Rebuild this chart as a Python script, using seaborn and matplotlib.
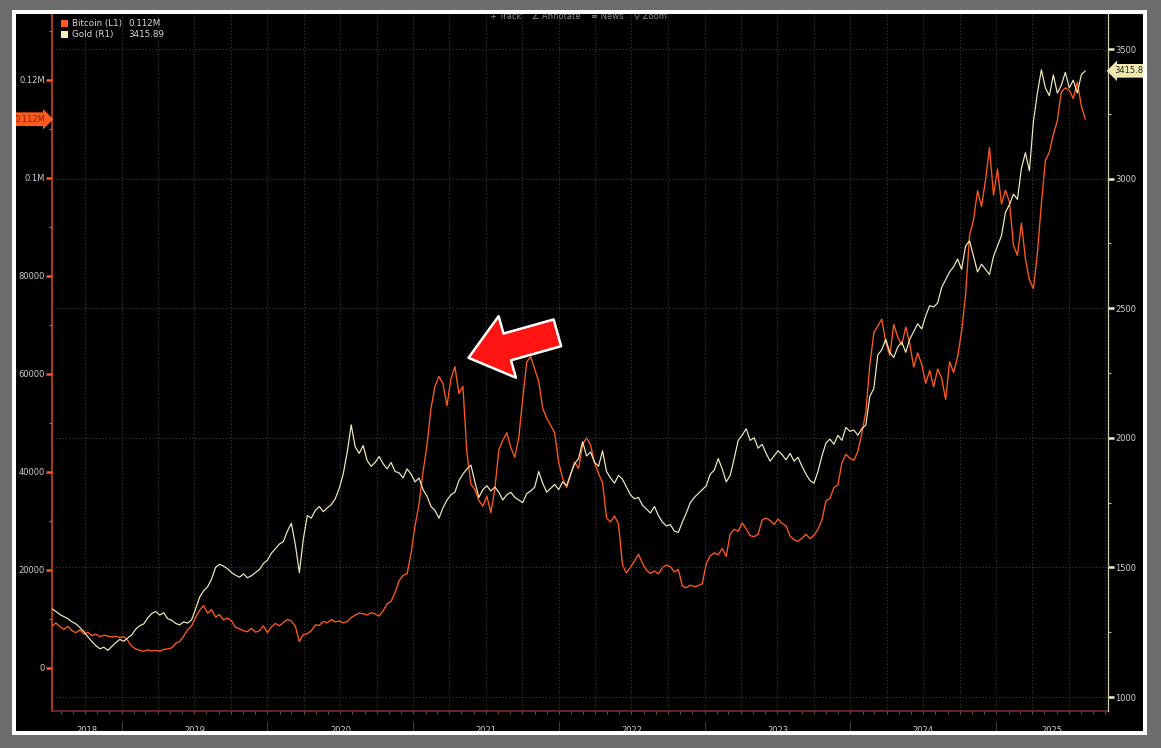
import numpy as np
import pandas as pd
import matplotlib
matplotlib.use("Agg")
import matplotlib.pyplot as plt
import matplotlib.dates as mdates
import matplotlib.transforms as mtransforms
from matplotlib.patches import Rectangle
from matplotlib.ticker import MultipleLocator, NullFormatter
import seaborn as sns

# ---------------- data (~10-day steps) ----------------
dates = pd.date_range("2018-07-10", periods=260, freq="10D")

btc_k = [
    8.6, 9.2, 8.4, 7.9, 8.5, 7.6, 7.2, 7.8, 6.9, 7.3,
    6.6, 6.9, 6.4, 6.7, 6.5, 6.3, 6.5, 6.2, 6.4, 5.6,
    4.4, 3.9, 3.6, 3.4, 3.7, 3.5, 3.6, 3.4, 3.8, 3.9,
    4.1, 5.0, 5.4, 6.5, 7.8, 8.6, 10.4, 11.8, 12.7, 11.2,
    11.9, 10.4, 10.9, 9.8, 10.2, 9.6, 8.3, 8.0, 7.6, 7.4,
    8.1, 7.3, 7.6, 8.6, 7.2, 8.4, 9.1, 8.6, 9.3, 9.9,
    9.6, 8.5, 5.4, 6.8, 7.0, 7.6, 8.8, 8.7, 9.5, 9.2,
    9.9, 9.4, 9.6, 9.2, 9.5, 10.3, 10.8, 11.2, 11.1, 10.8,
    11.3, 11.0, 10.6, 11.7, 13.1, 13.6, 15.4, 17.8, 18.9, 19.2,
    23.4, 29.0, 33.5, 40.0, 45.5, 53.0, 57.5, 59.5, 58.0, 53.5,
    59.0, 61.5, 56.0, 57.5, 44.0, 37.5, 36.4, 34.2, 33.0, 35.1,
    31.7, 36.5, 44.5, 46.5, 48.0, 45.0, 43.0, 47.0, 55.0, 62.5,
    63.5, 61.0, 58.5, 53.0, 51.0, 49.5, 48.0, 42.0, 38.7, 36.8,
    39.4, 42.0, 40.7, 45.6, 47.0, 45.5, 41.8, 39.7, 37.8, 30.6,
    29.8, 31.0, 29.4, 21.0, 19.4, 20.6, 21.8, 23.2, 21.4, 20.0,
    19.3, 19.8, 19.2, 20.5, 21.0, 20.7, 19.6, 20.1, 16.7, 16.4,
    16.9, 16.6, 16.8, 17.2, 21.3, 22.9, 23.5, 23.1, 24.4, 22.8,
    27.4, 28.3, 27.9, 29.6, 28.4, 27.0, 26.8, 27.3, 30.2, 30.6,
    30.1, 29.3, 30.4, 29.5, 29.0, 26.9, 26.2, 25.8, 26.5, 27.3,
    26.4, 27.1, 28.3, 30.2, 34.1, 34.6, 36.8, 37.4, 41.9, 43.6,
    42.8, 42.4, 44.2, 47.9, 52.3, 61.9, 68.4, 69.8, 71.2, 66.4,
    63.8, 70.1, 67.5, 65.9, 69.6, 66.2, 61.4, 64.3, 62.0, 58.1,
    60.7, 57.4, 61.0, 59.2, 54.8, 62.5, 60.3, 63.5, 68.7, 76.2,
    88.3, 91.5, 97.4, 94.2, 99.6, 106.2, 96.5, 101.8, 94.7, 97.5,
    95.1, 86.3, 84.2, 90.8, 83.5, 79.2, 77.4, 84.6, 94.8, 103.5,
    105.3, 108.9, 111.7, 117.6, 118.4, 117.9, 116.2, 119.6, 114.8, 112.0,
]

gold = [
    1340, 1330, 1318, 1310, 1302, 1290, 1282, 1268, 1252, 1232,
    1214, 1198, 1186, 1192, 1180, 1195, 1210, 1222, 1215, 1228,
    1240, 1262, 1275, 1282, 1305, 1322, 1330, 1316, 1325, 1302,
    1296, 1284, 1278, 1290, 1285, 1298, 1340, 1385, 1410, 1425,
    1455, 1500, 1512, 1505, 1495, 1480, 1470, 1462, 1475, 1460,
    1468, 1480, 1492, 1515, 1528, 1555, 1572, 1590, 1600, 1640,
    1670, 1588, 1480, 1610, 1700, 1690, 1720, 1735, 1715, 1730,
    1742, 1765, 1805, 1860, 1945, 2050, 1965, 1940, 1970, 1912,
    1890, 1905, 1928, 1900, 1880, 1905, 1870, 1865, 1845, 1880,
    1860, 1830, 1845, 1800, 1775, 1735, 1720, 1690, 1730, 1760,
    1780, 1790, 1835, 1860, 1880, 1895, 1830, 1770, 1800, 1815,
    1795, 1810, 1790, 1760, 1780, 1790, 1770, 1760, 1750, 1785,
    1795, 1810, 1870, 1825, 1790, 1805, 1820, 1800, 1830, 1815,
    1860, 1900, 1920, 1985, 1930, 1945, 1905, 1890, 1950, 1870,
    1845, 1825, 1855, 1840, 1810, 1780, 1765, 1770, 1740, 1725,
    1710, 1735, 1700, 1675, 1660, 1665, 1640, 1635, 1675, 1710,
    1750, 1770, 1785, 1800, 1815, 1860, 1875, 1920, 1880, 1830,
    1855, 1920, 1990, 2010, 2035, 1990, 2000, 1960, 1975, 1940,
    1910, 1930, 1950, 1935, 1915, 1940, 1910, 1925, 1890, 1860,
    1835, 1825, 1870, 1930, 1980, 1995, 1975, 2010, 1990, 2040,
    2025, 2030, 2010, 2035, 2050, 2160, 2190, 2320, 2340, 2380,
    2330, 2310, 2350, 2370, 2330, 2380, 2410, 2440, 2420, 2470,
    2510, 2505, 2520, 2580, 2610, 2640, 2660, 2690, 2650, 2740,
    2760, 2700, 2640, 2670, 2650, 2630, 2700, 2740, 2780, 2870,
    2900, 2940, 2920, 3040, 3100, 3030, 3220, 3330, 3420, 3350,
    3320, 3400, 3330, 3360, 3410, 3350, 3380, 3330, 3400, 3415.89,
]

left_ticks = [0, 20000, 40000, 60000, 80000, 100000, 120000]
left_labels = ["0", "20000", "40000", "60000", "80000", "0.1M", "0.12M"]
right_ticks = [1000, 1500, 2000, 2500, 3000, 3500]
right_labels = ["1000", "1500", "2000", "2500", "3000", "3500"]
series_names = ["Bitcoin (L1)", "Gold (R1)"]
toolbar_text = "+ Track    \u2220 Annotate    \u2261 News    \u26b2 Zoom"

df = pd.DataFrame({"date": dates, "btc": [v * 1000 for v in btc_k], "gold": gold})

BTC_C = "#ff5a1e"
GOLD_C = "#f4edc2"
GRID_C = "#3d3d3d"
LABEL_C = "#cfcfcf"

# ---------------- figure / frame ----------------
sns.set_style("dark", {"axes.facecolor": "black"})
plt.rcParams["font.family"] = ["DejaVu Sans", "Noto Sans", "DejaVu Sans Mono"]

W, H = 1161, 748
fig = plt.figure(figsize=(W / 100, H / 100), dpi=100, facecolor="#6c6c6c")


def fx(x):
    return x / W


def fy(y):
    return 1 - y / H


panel_box = (fx(13.5), fy(732.5), fx(1144.5) - fx(13.5), fy(11.5) - fy(732.5))
panel = Rectangle(panel_box[:2], panel_box[2], panel_box[3], transform=fig.transFigure,
                  fc="black", ec="none", zorder=-10)
fig.add_artist(panel)
frame = Rectangle(panel_box[:2], panel_box[2], panel_box[3], transform=fig.transFigure,
                  fc="none", ec="white", lw=2.9, zorder=30)
fig.add_artist(frame)

ax = fig.add_axes([fx(52), fy(711), fx(1108) - fx(52), fy(13) - fy(711)])
ax.set_facecolor("black")
ax2 = ax.twinx()

sns.lineplot(data=df, x="date", y="btc", ax=ax, color=BTC_C, linewidth=0.95, zorder=3)
sns.lineplot(data=df, x="date", y="gold", ax=ax2, color=GOLD_C, linewidth=0.85, zorder=3)

for a in (ax, ax2):
    a.set_xlabel("")
    a.set_ylabel("")
    a.grid(False)

ax.set_xlim(pd.Timestamp("2018-07-10"), pd.Timestamp("2025-10-08"))
ax.set_ylim(-8776, 133673)
ax2.set_ylim(946, 3639)

# ---------------- y axes ----------------
ax.set_yticks(left_ticks, left_labels)
ax.yaxis.set_minor_locator(MultipleLocator(10000))
ax2.set_yticks(right_ticks, right_labels)
ax2.yaxis.set_minor_locator(MultipleLocator(250))

ax.tick_params(axis="y", which="major", length=4, width=1.8, color=BTC_C,
               labelcolor=LABEL_C, labelsize=6, pad=1.2, left=True)
ax.tick_params(axis="y", which="minor", length=2.2, width=0.8, color=BTC_C, left=True)
ax2.tick_params(axis="y", which="major", length=4, width=1.8, color=GOLD_C,
                labelcolor=LABEL_C, labelsize=6, pad=1.2, right=True)
ax2.tick_params(axis="y", which="minor", length=2.2, width=0.8, color="#bdb89e", right=True)

ax2.grid(axis="y", which="major", linestyle=(0, (1, 2)), color=GRID_C, linewidth=0.8)

# ---------------- x axis ----------------
ax.xaxis.set_major_locator(mdates.MonthLocator(bymonth=[1, 4, 7, 10]))
ax.xaxis.set_minor_locator(mdates.MonthLocator())
ax.xaxis.set_major_formatter(NullFormatter())
ax.tick_params(axis="x", which="both", length=2.5, width=0.7, color="#8a4040",
               labelbottom=False, bottom=True)
ax.grid(axis="x", which="major", linestyle=(0, (1, 2)), color=GRID_C, linewidth=0.8)
ax.set_axisbelow(True)

# spines
for s in ("top", "right"):
    ax.spines[s].set_visible(False)
ax.spines["left"].set_color("#e0481e")
ax.spines["left"].set_linewidth(1.1)
ax.spines["bottom"].set_color("#7c3030")
ax.spines["bottom"].set_linewidth(1.1)
for s in ("top", "left", "bottom"):
    ax2.spines[s].set_visible(False)
ax2.spines["right"].set_color("#cfc9ae")
ax2.spines["right"].set_linewidth(0.9)

# year separators + centered year labels
xmin, xmax = ax.get_xlim()
blend = mtransforms.blended_transform_factory(ax.transData, ax.transAxes)
year_starts = pd.date_range("2019-01-01", "2025-01-01", freq="YS")
ax.vlines(mdates.date2num(year_starts), -0.014, -0.034, transform=blend,
          colors="#3a3a3a", linewidth=0.8, clip_on=False)
for yr in range(2018, 2026):
    a0 = max(mdates.date2num(pd.Timestamp(f"{yr}-01-01")), xmin)
    a1 = min(mdates.date2num(pd.Timestamp(f"{yr + 1}-01-01")), xmax)
    ax.text((a0 + a1) / 2, -0.0275, str(yr), transform=blend, ha="center", va="center",
            fontsize=6, color=LABEL_C, clip_on=False)

# ---------------- value tags ----------------
btc_last = df["btc"].iloc[-1]
gold_last = df["gold"].iloc[-1]
ax.annotate(f"{btc_last / 1e6:.3f}M", xy=(0, btc_last), xycoords=("axes fraction", "data"),
            xytext=(-4.5, 0), textcoords="offset points", ha="right", va="center",
            fontsize=6, color="#8e1d00", annotation_clip=False,
            bbox=dict(boxstyle="rarrow,pad=0.28", fc=BTC_C, ec="none"))
gtag = ax2.annotate(f"{gold_last:.2f}", xy=(1, gold_last), xycoords=("axes fraction", "data"),
                    xytext=(4.5, 0), textcoords="offset points", ha="left", va="center",
                    fontsize=6, color="#2a2a2a", annotation_clip=False,
                    bbox=dict(boxstyle="larrow,pad=0.28", fc="#f1e8ad", ec="none"))
gtag.set_clip_path(panel)

# ---------------- legend (top-left) ----------------
legend_vals = [f"{btc_last / 1e6:.3f}M", f"{gold_last:.2f}"]
for i, (name, val, col) in enumerate(zip(series_names, legend_vals, [BTC_C, "#f6f0b8"])):
    yc = 23.5 + i * 11
    fig.add_artist(Rectangle((fx(61), fy(yc + 3.8)), fx(68) - fx(61), fy(yc - 3.8) - fy(yc + 3.8),
                             transform=fig.transFigure, fc=col, ec="none", zorder=10))
    fig.text(fx(72), fy(yc), name, ha="left", va="center", fontsize=6.3, color="#d8d8d8")
    fig.text(fx(128), fy(yc), val, ha="left", va="center", fontsize=6.3, color="#d8d8d8")

# toolbar
fig.text(fx(578), fy(17), toolbar_text, ha="center", va="center", fontsize=6, color="#8a8a8a")

# ---------------- red arrow annotation ----------------
tip_date = pd.Timestamp("2021-05-19")
ax.annotate("", xy=(tip_date, 63300), xytext=(64, 18), textcoords="offset points",
            arrowprops=dict(arrowstyle="simple,head_length=29,head_width=46,tail_width=20",
                            mutation_scale=1, fc="#ff1414", ec="white", lw=1.8,
                            shrinkA=0, shrinkB=0), zorder=20)

fig.savefig("out.png", dpi=100, facecolor=fig.get_facecolor())
